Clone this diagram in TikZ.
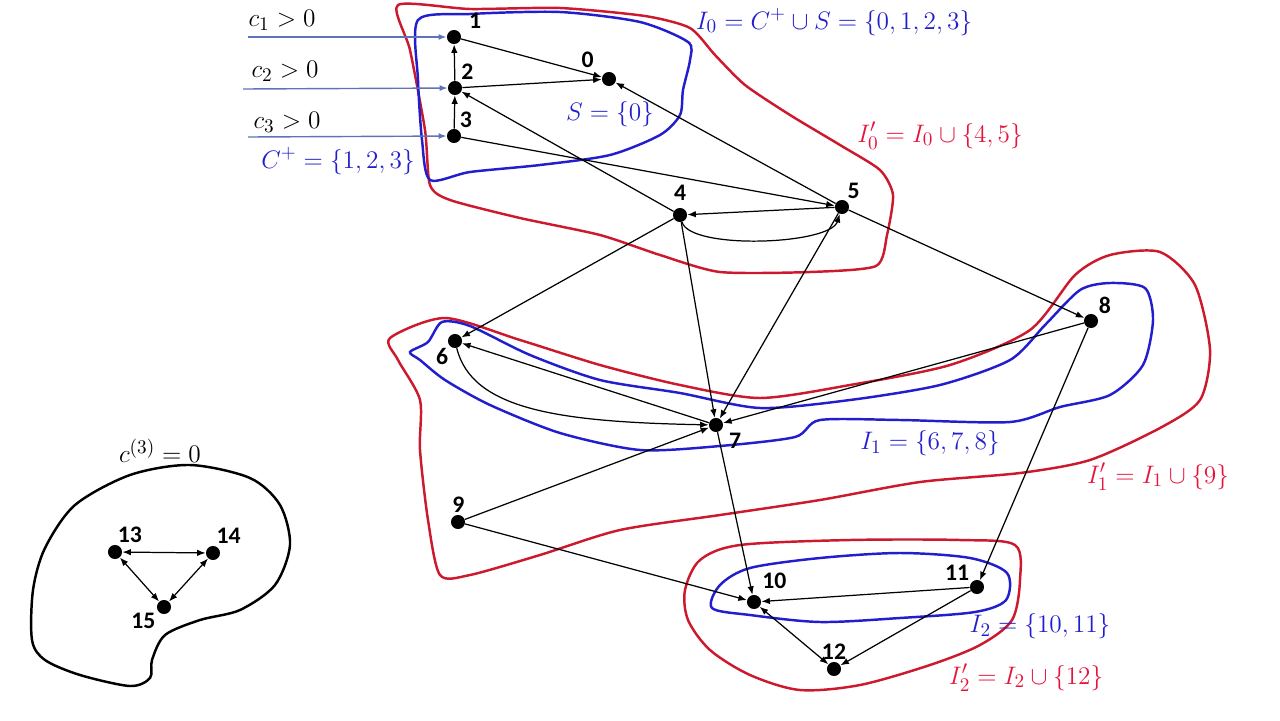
\documentclass[tikz,border=0pt]{standalone}
\usepackage{amsmath,amssymb}
\usepackage{fontspec}
\newfontfamily\numfont{Carlito}
\usepackage{tikz}
\usetikzlibrary{arrows.meta,positioning}
\definecolor{setblue}{RGB}{35,30,205}
\definecolor{setred}{RGB}{205,25,45}
\definecolor{labred}{RGB}{230,20,60}
\definecolor{inblue}{RGB}{95,115,185}

\begin{document}
\begin{tikzpicture}[
  x=0.02cm,y=-0.02cm,
  dot/.style={circle,fill=black,inner sep=0pt,minimum size=8pt,label distance=2pt},
  num/.style={font=\numfont\bfseries\fontsize{13.5}{15}\selectfont,inner sep=1pt},
  arr/.style={-{Latex[length=1.7mm,width=1.3mm]},line width=0.7pt},
  dbl/.style={{Latex[length=1.7mm,width=1.3mm]}-{Latex[length=1.7mm,width=1.3mm]},line width=0.7pt},
  inarr/.style={-{Latex[length=1.6mm,width=1.2mm]},inblue,line width=0.8pt},
  redset/.style={setred,line width=1.4pt},
  blueset/.style={setblue,line width=1.4pt},
  mlab/.style={font=\fontsize{15.7}{18}\selectfont,inner sep=1pt}
]
\useasboundingbox (0,0) rectangle (1280,720);

\draw[redset] plot[smooth cycle,tension=0.4] coordinates {(398,5) (470,9) (560,8) (645,16) (690,28) (715,55) (745,85) (790,115) (840,145) (880,170) (893,195) (887,235) (876,266) (810,272) (720,272) (660,255) (600,235) (520,218) (450,200) (430,185) (425,130) (410,50)};
\draw[blueset] plot[smooth cycle,tension=0.45] coordinates {(418,20) (470,14) (560,12) (640,22) (688,42) (690,60) (683,90) (680,115) (660,135) (610,155) (540,165) (470,172) (430,180) (422,140) (418,80)};
\draw[redset] plot[smooth cycle,tension=0.45] coordinates {(390,338) (445,318) (520,340) (600,365) (680,385) (760,398) (850,385) (950,365) (1030,330) (1075,275) (1110,255) (1160,252) (1195,285) (1210,350) (1200,400) (1160,428) (1090,460) (1020,473) (920,482) (820,500) (720,515) (620,530) (540,555) (470,575) (440,575) (428,520) (420,450) (420,400) (398,360)};
\draw[blueset] plot[smooth cycle,tension=0.45] coordinates {(410,352) (428,342) (442,322) (470,326) (530,355) (600,380) (680,393) (760,408) (850,400) (940,385) (1010,360) (1045,325) (1080,290) (1110,283) (1145,288) (1153,320) (1143,365) (1110,395) (1060,407) (1010,422) (900,420) (820,420) (795,437) (720,446) (640,450) (560,433) (490,405) (445,380) (420,360)};
\draw[redset] plot[smooth cycle,tension=0.5] coordinates {(685,590) (700,560) (740,545) (850,540) (960,540) (1015,545) (1020,580) (1012,620) (980,645) (930,665) (860,685) (800,690) (750,675) (710,650) (688,620)};
\draw[blueset] plot[smooth cycle,tension=0.5] coordinates {(712,608) (720,585) (750,568) (820,558) (900,553) (970,558) (1007,573) (1006,600) (975,612) (900,618) (820,622) (750,615)};
\draw[line width=1.4pt] plot[smooth cycle,tension=0.5] coordinates {(32,640) (33,590) (45,548) (75,505) (130,475) (190,465) (250,478) (280,505) (290,545) (275,585) (240,610) (200,620) (165,635) (152,660) (150,678) (130,686) (80,675) (45,660)};

\node[dot,label={[num,label distance=5pt]145:0}] (v0) at (609,79) {};
\node[dot,label={[num,label distance=4pt]25:1}] (v1) at (454,37) {};
\node[dot,label={[num]55:2}] (v2) at (455,88) {};
\node[dot,label={[num]60:3}] (v3) at (454,136) {};
\node[dot,label={[num,label distance=3pt]90:4}] (v4) at (680,215) {};
\node[dot,label={[num]62:5}] (v5) at (842,207) {};
\node[dot,label={[num]-130:6}] (v6) at (455,341) {};
\node[dot,label={[num,label distance=3pt]-30:7}] (v7) at (716,425) {};
\node[dot,label={[num]40:8}] (v8) at (1091,321) {};
\node[dot,label={[num]88:9}] (v9) at (458,522) {};
\node[dot,label={[num,label distance=3pt]60:10}] (v10) at (754,602) {};
\node[dot,label={[num]140:11}] (v11) at (977,587) {};
\node[dot,label={[num]90:12}] (v12) at (834,669) {};
\node[dot,label={[num]84:13}] (v13) at (115,552) {};
\node[dot,label={[num]78:14}] (v14) at (213,553) {};
\node[dot,label={[num]-150:15}] (v15) at (164,607) {};

\coordinate (in1) at (248,37);
\coordinate (in2) at (243,89);
\coordinate (in3) at (248,137);
\draw[inarr] (in1) -- (v1);
\draw[inarr] (in2) -- (v2);
\draw[inarr] (in3) -- (v3);

\node[mlab] (c1) at (282,20) {$c_1>0$};
\node[mlab] (c2) at (285,71) {$c_2>0$};
\node[mlab] (c3) at (287,122) {$c_3>0$};
\node[mlab,text=setblue] (cplus) at (338,161) {$C^+=\{1,2,3\}$};
\node[mlab,text=setblue] (sset) at (610,114) {$S=\{0\}$};
\node[mlab,text=setblue] (izero) at (834,22) {$I_0=C^+\cup S=\{0,1,2,3\}$};
\node[mlab,text=labred] (izerop) at (940,136) {$I_0'=I_0\cup\{4,5\}$};
\node[mlab,text=setblue] (ione) at (930,443) {$I_1=\{6,7,8\}$};
\node[mlab,text=labred] (ionep) at (1158,477) {$I_1'=I_1\cup\{9\}$};
\node[mlab,text=setblue] (itwo) at (1040,626) {$I_2=\{10,11\}$};
\node[mlab,text=labred] (itwop) at (1026,678) {$I_2'=I_2\cup\{12\}$};
\node[mlab] (czero) at (160,451) {$c^{(3)}=0$};

\draw[arr] (v1) -- (v0);
\draw[arr] (v2) -- (v0);
\draw[arr] (v2) -- (v1);
\draw[arr] (v3) -- (v2);
\draw[arr] (v4) -- (v2);
\draw[arr] (v5) -- (v0);
\draw[arr] (v3) -- (v5);
\draw[arr] (v5) -- (v4);
\draw[arr] (v4) .. controls (690,250) and (830,245) .. (v5);
\draw[arr] (v4) -- (v6);
\draw[arr] (v4) -- (v7);
\draw[arr] (v5) -- (v7);
\draw[arr] (v5) -- (v8);
\draw[arr] (v8) -- (v7);
\draw[arr] (v8) -- (v11);
\draw[arr] (v7) -- (v6);
\draw[arr] (v6) .. controls (472,410) and (560,422) .. (v7);
\draw[arr] (v9) -- (v7);
\draw[arr] (v9) -- (v10);
\draw[arr] (v7) -- (v10);
\draw[arr] (v11) -- (v10);
\draw[arr] (v11) -- (v12);
\draw[dbl] (v10) -- (v12);
\draw[dbl] (v13) -- (v14);
\draw[dbl] (v13) -- (v15);
\draw[dbl] (v14) -- (v15);
\end{tikzpicture}
\end{document}
